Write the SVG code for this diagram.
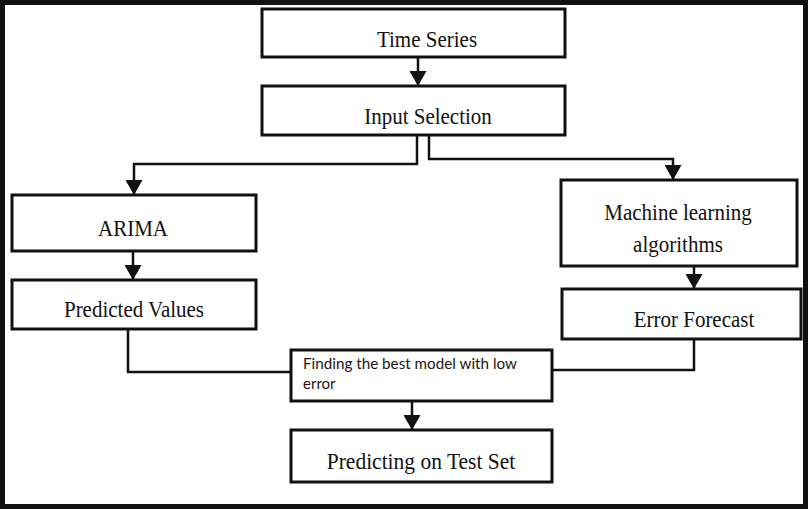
<svg xmlns="http://www.w3.org/2000/svg" width="808" height="509" viewBox="0 0 808 509">
  <defs>
    <style>
      .box { fill: #ffffff; stroke: #111111; stroke-width: 3; }
      .lbl { font-family: "Liberation Serif", "Times New Roman", serif; font-size: 21px; fill: #111111; text-anchor: middle; }
      .lbl2 { font-family: Lato, "Liberation Sans", sans-serif; font-size: 15px; fill: #1c160f; }
      .conn { fill: none; stroke: #111111; stroke-width: 2.5; }
    </style>
    <marker id="ah" viewBox="0 0 15 17" refX="15" refY="8.5" markerWidth="15" markerHeight="17" markerUnits="userSpaceOnUse" orient="auto">
      <path d="M0,0 L15,8.5 L0,17 Z" fill="#111111"/>
    </marker>
  </defs>
  <rect x="0" y="0" width="808" height="509" fill="#ffffff"/>
  <rect x="2.5" y="2.5" width="803" height="504" fill="none" stroke="#111111" stroke-width="5"/>

  <g id="connectors">
    <path class="conn" d="M418,57 V86" marker-end="url(#ah)"/>
    <path class="conn" d="M417,135 V164 H134 V195" marker-end="url(#ah)"/>
    <path class="conn" d="M429,135 V159 H673 V180" marker-end="url(#ah)"/>
    <path class="conn" d="M133,251 V280" marker-end="url(#ah)"/>
    <path class="conn" d="M694,266 V289" marker-end="url(#ah)"/>
    <path class="conn" d="M128,329 V372 H291"/>
    <path class="conn" d="M694,339 V370 H552"/>
    <path class="conn" d="M412,401 V430" marker-end="url(#ah)"/>
  </g>

  <g id="time-series">
    <rect class="box" x="262" y="9" width="303" height="48"/>
    <text class="lbl" transform="translate(427,47) scale(1,1.1)">Time Series</text>
  </g>
  <g id="input-selection">
    <rect class="box" x="262" y="86" width="303" height="49"/>
    <text class="lbl" transform="translate(428,124) scale(1,1.1)">Input Selection</text>
  </g>
  <g id="arima">
    <rect class="box" x="12" y="195" width="244" height="56"/>
    <text class="lbl" transform="translate(133,236) scale(1,1.1)">ARIMA</text>
  </g>
  <g id="predicted-values">
    <rect class="box" x="12" y="280" width="244" height="49"/>
    <text class="lbl" transform="translate(134,317) scale(1,1.1)">Predicted Values</text>
  </g>
  <g id="machine-learning">
    <rect class="box" x="561" y="180" width="236" height="86"/>
    <text class="lbl" transform="translate(678,220) scale(1,1.1)">Machine learning</text>
    <text class="lbl" transform="translate(678,252) scale(1,1.1)">algorithms</text>
  </g>
  <g id="error-forecast">
    <rect class="box" x="562" y="289" width="239" height="50"/>
    <text class="lbl" transform="translate(694,327) scale(1,1.1)">Error Forecast</text>
  </g>
  <g id="finding-best-model">
    <rect class="box" x="291" y="350" width="261" height="51"/>
    <text class="lbl2" x="303" y="369" textLength="214" lengthAdjust="spacingAndGlyphs">Finding the best model with low</text>
    <text class="lbl2" x="303" y="389">error</text>
  </g>
  <g id="predicting-test-set">
    <rect class="box" x="291" y="430" width="261" height="52"/>
    <text class="lbl" transform="translate(421,469) scale(1,1.1)" style="font-size:21.5px">Predicting on Test Set</text>
  </g>
</svg>
